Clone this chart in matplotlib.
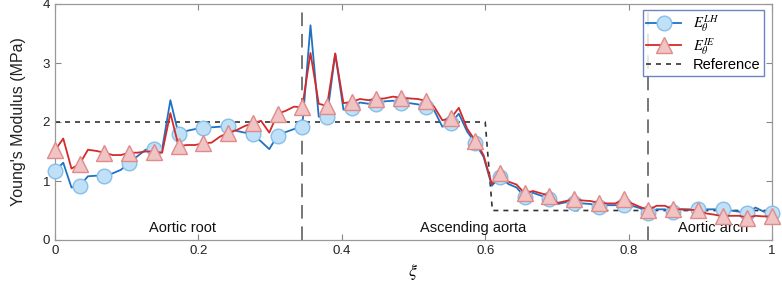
import numpy as np
import matplotlib
matplotlib.use("Agg")
import matplotlib.pyplot as plt

plt.rcParams['font.family'] = ['Liberation Sans', 'DejaVu Sans']
plt.rcParams['mathtext.fontset'] = 'stix'

# position along the aorta (normalised), 88 samples
n_pts = 88
xi = np.linspace(0, 1, n_pts)

E_LH = [1.17, 1.31, 0.89, 0.92, 1.08, 1.09, 1.09, 1.13, 1.19, 1.31, 1.42, 1.53,
        1.55, 1.54, 2.37, 1.79, 1.85, 1.88, 1.90, 1.91, 1.92, 1.93, 1.85, 1.82,
        1.79, 1.67, 1.54, 1.77, 1.83, 1.88, 1.91, 3.64, 2.09, 2.09, 3.16, 2.21,
        2.23, 2.33, 2.31, 2.31, 2.35, 2.36, 2.33, 2.32, 2.30, 2.26, 2.20, 1.92,
        1.98, 2.14, 1.84, 1.64, 1.41, 0.92, 1.07, 0.95, 0.89, 0.73, 0.80, 0.75,
        0.70, 0.61, 0.64, 0.63, 0.62, 0.61, 0.56, 0.59, 0.59, 0.59, 0.58, 0.54,
        0.45, 0.52, 0.52, 0.47, 0.52, 0.52, 0.52, 0.52, 0.52, 0.52, 0.50, 0.48,
        0.46, 0.55, 0.48, 0.46]

E_IE = [1.52, 1.72, 1.21, 1.29, 1.53, 1.51, 1.48, 1.44, 1.44, 1.48, 1.48, 1.50,
        1.50, 1.48, 2.15, 1.59, 1.61, 1.61, 1.64, 1.65, 1.75, 1.82, 1.86, 1.93,
        1.98, 2.02, 1.82, 2.14, 2.19, 2.26, 2.25, 3.17, 2.31, 2.27, 3.16, 2.32,
        2.34, 2.39, 2.37, 2.39, 2.40, 2.43, 2.41, 2.40, 2.39, 2.36, 2.26, 2.03,
        2.06, 2.24, 1.89, 1.68, 1.44, 0.95, 1.13, 0.99, 0.94, 0.79, 0.83, 0.79,
        0.75, 0.63, 0.66, 0.69, 0.67, 0.66, 0.63, 0.62, 0.62, 0.69, 0.62, 0.56,
        0.51, 0.58, 0.58, 0.52, 0.52, 0.51, 0.51, 0.45, 0.43, 0.40, 0.41, 0.41,
        0.38, 0.41, 0.40, 0.40]

ref_x = [0.0, 0.6, 0.61, 1.0]
ref_y = [2.0, 2.0, 0.5, 0.5]

region_bounds = [10 / 29, 24 / 29]
region_labels = ["Aortic root", "Ascending aorta", "Aortic arch"]
region_label_x = [0.178, 0.583, 0.918]

fig = plt.figure(figsize=(7.82, 2.90), dpi=100)
ax = fig.add_axes([55 / 782, 50 / 290, 717 / 782, 236 / 290])

blue = '#1f72c4'
red = '#d42a2a'
ax.plot(xi, E_LH, color=blue, lw=1.3, marker='o', markevery=3, ms=10.5,
        mfc='#bfe0f6', mec='#86bfe8', mew=1.0, label=r'$E_\theta^{LH}$', zorder=3,
        clip_on=False)
ax.plot(xi, E_IE, color=red, lw=1.3, marker='^', markevery=3, ms=11,
        mfc='#f0c4c4', mec='#e08a8a', mew=1.0, label=r'$E_\theta^{IE}$', zorder=4,
        clip_on=False)
ax.plot(ref_x, ref_y, color='#333333', lw=1.2, ls=(0, (3, 3)), label='Reference', zorder=2)

for b in region_bounds:
    ax.axvline(b, color='#777777', lw=1.4, ls=(0, (7, 4)), zorder=1)

for lx, lab in zip(region_label_x, region_labels):
    ax.text(lx, 0.2, lab, ha='center', va='center', fontsize=10.5, color='#111111')

ax.set_xlim(0, 1)
ax.set_ylim(0, 4)
ax.set_xticks([0, 0.2, 0.4, 0.6, 0.8, 1])
ax.set_xticklabels(['0', '0.2', '0.4', '0.6', '0.8', '1'])
ax.set_yticks([0, 1, 2, 3, 4])
ax.tick_params(direction='in', top=True, right=True, length=4, color='#888888',
               labelsize=9.5, labelcolor='#222222')
for s in ax.spines.values():
    s.set_color('#999999')
    s.set_linewidth(0.9)

ax.set_ylabel("Young's Modulus (MPa)", fontsize=11.5, color='#222222', labelpad=12)
ax.set_xlabel(r'$\xi$', fontsize=13, labelpad=4)

leg = ax.legend(loc='upper right', bbox_to_anchor=(0.989, 0.975), fontsize=10.5,
                frameon=True, fancybox=False, handlelength=2.4, borderpad=0.25,
                labelspacing=0.1, borderaxespad=0, handletextpad=0.8)
leg.get_frame().set_edgecolor('#4a66b0')
leg.get_frame().set_linewidth(1.0)

fig.savefig('out.png', dpi=100)
